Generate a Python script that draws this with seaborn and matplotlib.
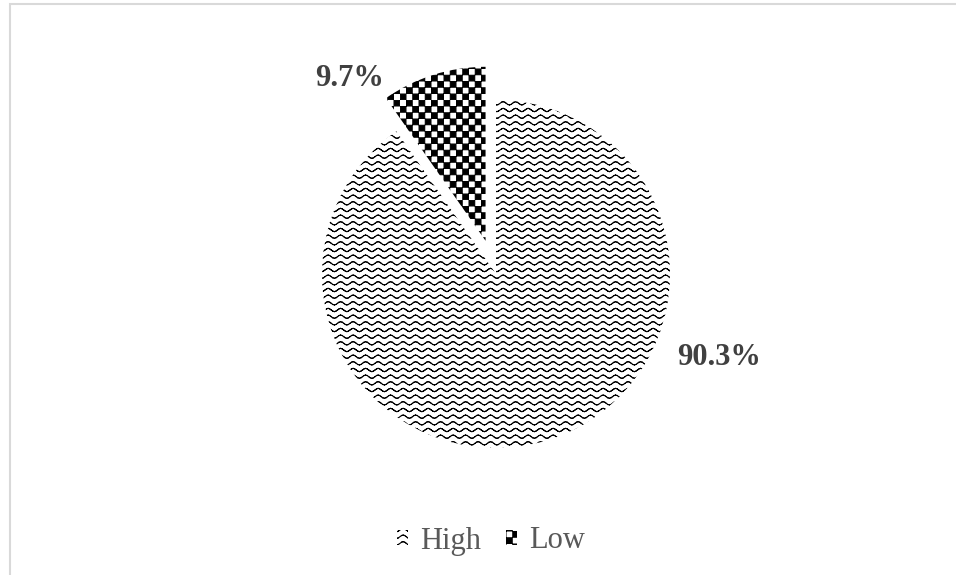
import numpy as np
import matplotlib
matplotlib.use("Agg")
import matplotlib.pyplot as plt
import matplotlib.hatch as mhatch
from matplotlib.path import Path
from matplotlib.patches import Rectangle
import seaborn as sns

# ---- data ----
categories = ["High", "Low"]
shares = [90.3, 9.7]
explode_amount = [0.0, 0.2]

# ---- custom hatch patterns (wavy lines / checkerboard) ----
def _wave_path(rows=15, periods=8, amp=0.016, steps=8):
    verts, codes = [], []
    xs = np.linspace(0, 1, periods * steps + 1)
    for r in range(rows):
        y0 = (r + 0.5) / rows
        ys = y0 + amp * np.sin(2 * np.pi * periods * xs)
        for i in range(len(xs) - 1):
            verts += [(xs[i], ys[i]), (xs[i + 1], ys[i + 1])]
            codes += [Path.MOVETO, Path.LINETO]
    return Path(np.array(verts), codes)


def _checker_path(n=16, inset=0.003):
    verts, codes = [], []
    for i in range(n):
        for j in range(n):
            if (i + j) % 2 == 0:
                x0, y0 = i / n + inset, j / n + inset
                x1, y1 = (i + 1) / n - inset, (j + 1) / n - inset
                verts += [(x0, y0), (x1, y0), (x1, y1), (x0, y1), (x0, y0)]
                codes += [Path.MOVETO, Path.LINETO, Path.LINETO, Path.LINETO, Path.CLOSEPOLY]
    return Path(np.array(verts), codes)


_CUSTOM = {"-": _wave_path(), "+": _checker_path()}
_orig_get_path = mhatch.get_path


def _get_path(hatchpattern, density=6):
    if hatchpattern in _CUSTOM:
        return _CUSTOM[hatchpattern]
    return _orig_get_path(hatchpattern, density)


mhatch.get_path = _get_path

# ---- style ----
sns.set_theme(style="white")
plt.rcParams["font.family"] = ["Liberation Serif", "DejaVu Serif"]
plt.rcParams["hatch.linewidth"] = 0.8

W, H, DPI = 956, 575, 100
fig = plt.figure(figsize=(W / DPI, H / DPI), dpi=DPI)
fig.patch.set_facecolor("white")

# pie placement (pixels)
cx, cy, r = 496, 274, 174
L = 1.5
S = 2 * r * L
ax = fig.add_axes([(cx - S / 2) / W, (H - cy - S / 2) / H, S / W, S / H])

hatches = ["-", "+"]
wedges, _ = ax.pie(
    shares,
    explode=explode_amount,
    startangle=90,
    counterclock=False,
    colors=["white", "white"],
    wedgeprops=dict(edgecolor="black", linewidth=0),
)
for w, h in zip(wedges, hatches):
    w.set_hatch(h)

ax.set_xlim(-L, L)
ax.set_ylim(-L, L)
ax.set_aspect("equal")
ax.axis("off")

# data labels
label_pos = [(1.28, -0.48), (-0.84, 1.126)]
for val, (lx, ly) in zip(shares, label_pos):
    ax.text(lx, ly, f"{val:.1f}%", ha="center", va="center",
            fontsize=22, fontweight="bold", color="#404040")

# legend
leg = fig.legend(
    wedges, categories, loc="center", bbox_to_anchor=(491 / W, 1 - 541 / H),
    ncol=2, frameon=False, fontsize=22, handlelength=0.36, handleheight=0.36,
    handletextpad=0.42, columnspacing=0.8,
)
for t in leg.get_texts():
    t.set_color("#595959")

# chart-area border (left and top visible)
fig.patches.append(Rectangle((10 / W, -0.1), 1.2, 1.1 - 4 / H, transform=fig.transFigure,
                             fill=False, edgecolor="#d9d9d9", linewidth=1.5, zorder=0))

fig.savefig("out.png", dpi=DPI)
